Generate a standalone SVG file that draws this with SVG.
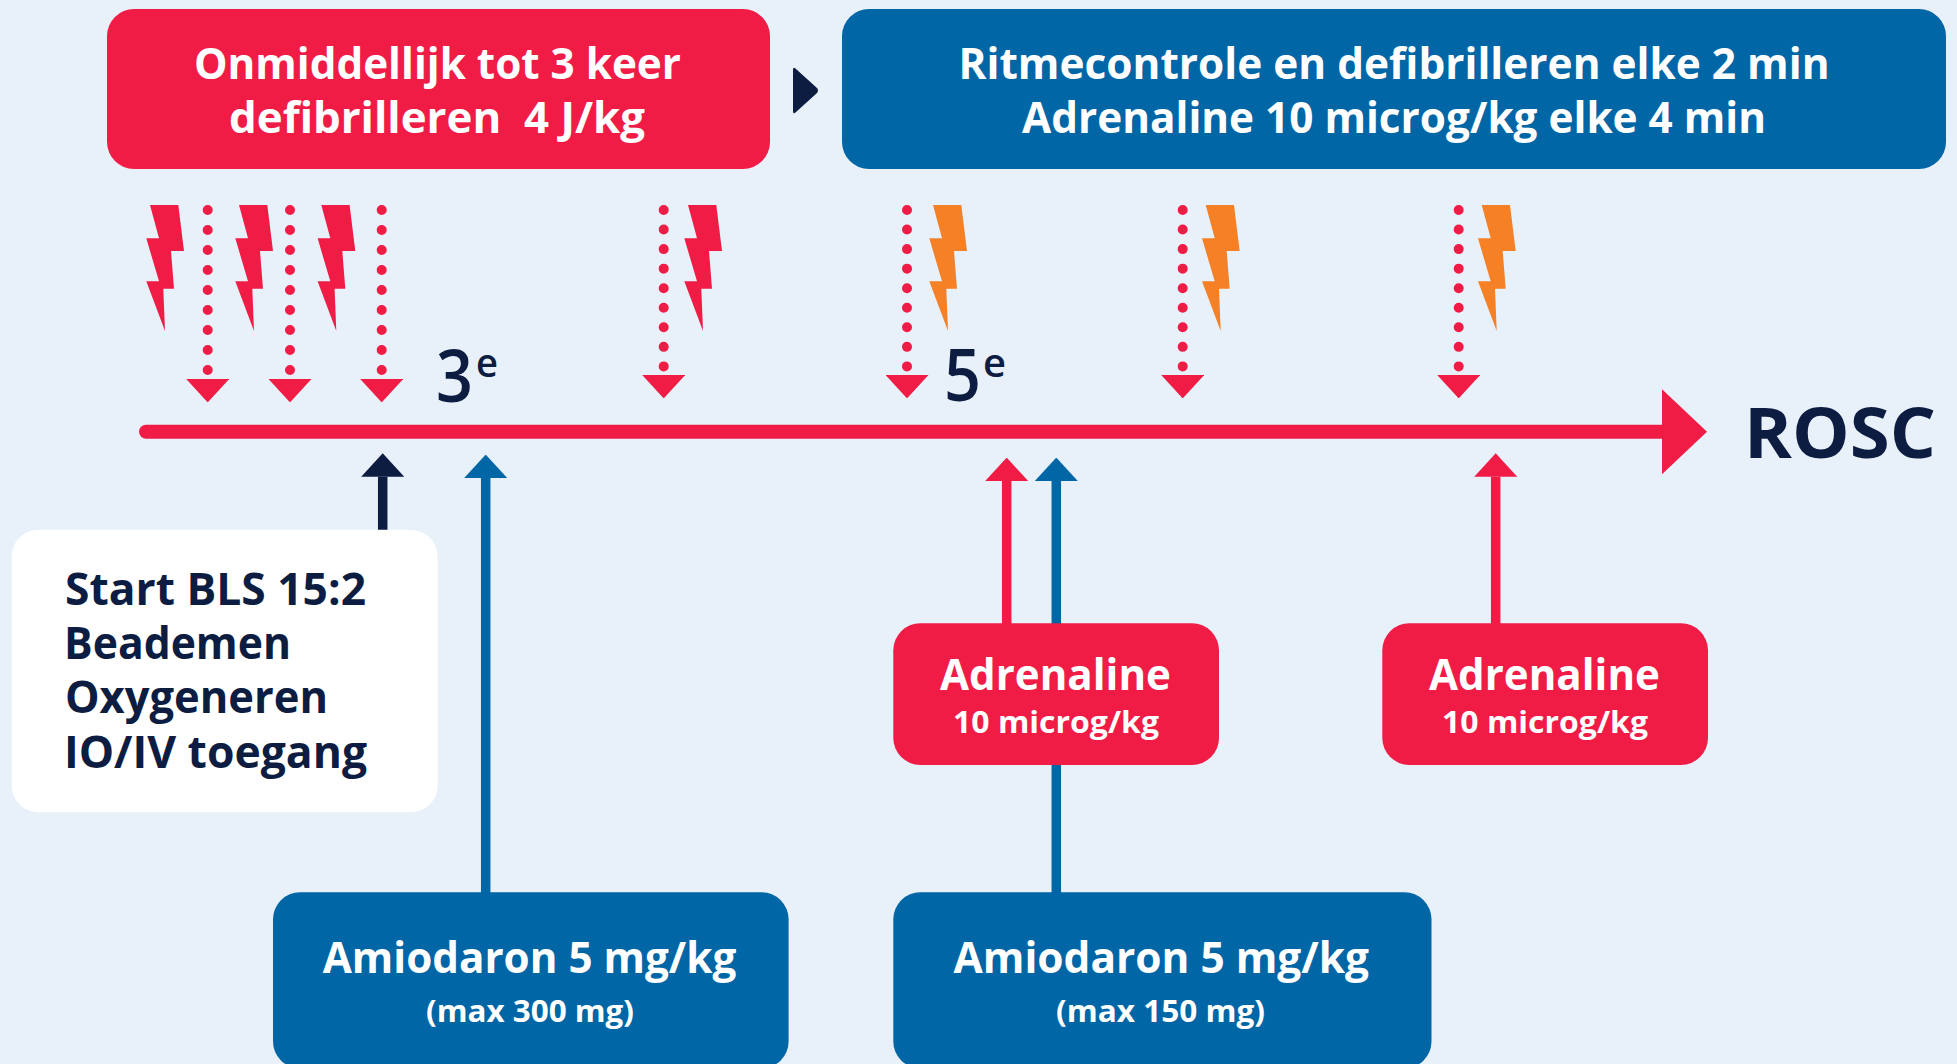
<svg xmlns="http://www.w3.org/2000/svg" xmlns:xlink="http://www.w3.org/1999/xlink" width="1957" height="1064" viewBox="0 0 1957 1064">
<style>
text{font-family:"Open Sans","Noto Sans","Liberation Sans",sans-serif;font-weight:700}
.w{fill:#ffffff}
.n{fill:#0d1c41}
.big{font-size:43px}
.lead{font-size:43px}
.sub{font-size:31px}
.list{font-size:44px}
.ord{font-size:73px;font-weight:600}
.sup{font-size:40px;font-weight:600}
.red{fill:#f01c46}
.blue{fill:#0066a6}
.orange{fill:#f68026}
.navy{fill:#0d1c41}
.dot{stroke:#f01c46;stroke-width:10;stroke-linecap:round;fill:none}
.a{stroke-width:9.5;fill:none}
</style>
<defs>
<polygon id="bolt" points="0,0 28.3,0 34,46 21,46 24,83.7 13.3,83.7 15,126 -3.7,76.3 9,76.3 -3.7,33.3 9,33.3"/>
<marker id="hr" markerUnits="userSpaceOnUse" markerWidth="23.4" markerHeight="43" refX="0" refY="21.5" orient="auto" viewBox="0 0 23.4 43"><path d="M0,0L23.4,21.5L0,43z" fill="#f01c46"/></marker>
<marker id="hb" markerUnits="userSpaceOnUse" markerWidth="23.4" markerHeight="43" refX="0" refY="21.5" orient="auto" viewBox="0 0 23.4 43"><path d="M0,0L23.4,21.5L0,43z" fill="#0066a6"/></marker>
<marker id="hn" markerUnits="userSpaceOnUse" markerWidth="23.4" markerHeight="43" refX="0" refY="21.5" orient="auto" viewBox="0 0 23.4 43"><path d="M0,0L23.4,21.5L0,43z" fill="#0d1c41"/></marker>
<marker id="hm" markerUnits="userSpaceOnUse" markerWidth="45.5" markerHeight="86" refX="0" refY="43" orient="auto" viewBox="0 0 45.5 86"><path d="M0,0L45.5,43L0,86z" fill="#f01c46"/></marker>
</defs>
<rect width="1957" height="1064" fill="#e8f0fa"/>
<g id="connectors">
<line x1="146" y1="431.7" x2="1661.5" y2="431.7" stroke="#f01c46" stroke-width="14" stroke-linecap="round" marker-end="url(#hm)"/>
<line class="dot" stroke-dasharray="0 20" x1="207.7" y1="210" x2="207.7" y2="379" marker-end="url(#hr)"/>
<line class="dot" stroke-dasharray="0 20" x1="290" y1="210" x2="290" y2="379" marker-end="url(#hr)"/>
<line class="dot" stroke-dasharray="0 20" x1="381.7" y1="210" x2="381.7" y2="379" marker-end="url(#hr)"/>
<line class="dot" stroke-dasharray="0 19.55" x1="663.7" y1="210" x2="663.7" y2="375" marker-end="url(#hr)"/>
<line class="dot" stroke-dasharray="0 19.55" x1="907" y1="210" x2="907" y2="375" marker-end="url(#hr)"/>
<line class="dot" stroke-dasharray="0 19.55" x1="1182.7" y1="210" x2="1182.7" y2="375" marker-end="url(#hr)"/>
<line class="dot" stroke-dasharray="0 19.55" x1="1458.7" y1="210" x2="1458.7" y2="375" marker-end="url(#hr)"/>
<line class="a" stroke="#0d1c41" x1="382.7" y1="531" x2="382.7" y2="476.7" marker-end="url(#hn)"/>
<line class="a" stroke="#0066a6" x1="485.7" y1="893" x2="485.7" y2="478" marker-end="url(#hb)"/>
<line class="a" stroke="#f01c46" x1="1006.7" y1="625" x2="1006.7" y2="481" marker-end="url(#hr)"/>
<line class="a" stroke="#0066a6" x1="1056.3" y1="893" x2="1056.3" y2="481" marker-end="url(#hb)"/>
<line class="a" stroke="#f01c46" x1="1495.7" y1="625" x2="1495.7" y2="476.7" marker-end="url(#hr)"/>
<path d="M793,70Q793,66 796,69L817,88Q819,90.500 817,93L796,112Q793,115 793,111z" class="navy"/>
</g>
<g id="bolts">
<use xlink:href="#bolt" href="#bolt" x="150" y="205" class="red"/>
<use xlink:href="#bolt" href="#bolt" x="239" y="205" class="red"/>
<use xlink:href="#bolt" href="#bolt" x="321.3" y="205" class="red"/>
<use xlink:href="#bolt" href="#bolt" x="688" y="205" class="red"/>
<use xlink:href="#bolt" href="#bolt" x="933" y="205" class="orange"/>
<use xlink:href="#bolt" href="#bolt" x="1205.700" y="205" class="orange"/>
<use xlink:href="#bolt" href="#bolt" x="1481.700" y="205" class="orange"/>
</g>
<g id="node-defib">
<rect x="107" y="9" width="663" height="160" rx="27" class="red"/>
<text class="big w" x="194" y="79" textLength="487" lengthAdjust="spacingAndGlyphs">Onmiddellijk tot 3 keer</text>
<text class="big w" x="229" y="132.700" textLength="416" lengthAdjust="spacingAndGlyphs" xml:space="preserve">defibrilleren  4 J/kg</text>
</g>
<g id="node-ritme">
<rect x="842" y="9" width="1104" height="160" rx="27" class="blue"/>
<text class="big w" x="958.500" y="79" textLength="871" lengthAdjust="spacingAndGlyphs">Ritmecontrole en defibrilleren elke 2 min</text>
<text class="big w" x="1022" y="132.700" textLength="744" lengthAdjust="spacingAndGlyphs">Adrenaline 10 microg/kg elke 4 min</text>
</g>
<g id="node-3e">
<text class="ord n" x="436" y="401.700" textLength="37" lengthAdjust="spacingAndGlyphs">3</text>
<text class="sup n" x="476" y="376.700" textLength="22" lengthAdjust="spacingAndGlyphs">e</text>
</g>
<g id="node-5e">
<text class="ord n" x="944" y="400.700" textLength="37" lengthAdjust="spacingAndGlyphs">5</text>
<text class="sup n" x="983" y="376.700" textLength="23" lengthAdjust="spacingAndGlyphs">e</text>
</g>
<g id="node-rosc">
<text class="n" font-size="70" x="1744" y="458" textLength="192" lengthAdjust="spacingAndGlyphs">ROSC</text>
</g>
<g id="node-bls">
<rect x="11.700" y="529.700" width="426" height="282.600" rx="27" fill="#ffffff"/>
<text class="list n" x="65" y="605" textLength="301" lengthAdjust="spacingAndGlyphs">Start BLS 15:2</text>
<text class="list n" x="64" y="659" textLength="227" lengthAdjust="spacingAndGlyphs">Beademen</text>
<text class="list n" x="65" y="713.300" textLength="263" lengthAdjust="spacingAndGlyphs">Oxygeneren</text>
<text class="list n" x="64" y="768" textLength="303" lengthAdjust="spacingAndGlyphs">IO/IV toegang</text>
</g>
<g id="node-adrenaline-1">
<rect x="893.300" y="623.300" width="325.700" height="141.700" rx="27" class="red"/>
<text class="lead w" x="940" y="690" textLength="231" lengthAdjust="spacingAndGlyphs">Adrenaline</text>
<text class="sub w" x="953" y="733" textLength="206" lengthAdjust="spacingAndGlyphs">10 microg/kg</text>
</g>
<g id="node-adrenaline-2">
<rect x="1382.300" y="623.300" width="325.700" height="141.700" rx="27" class="red"/>
<text class="lead w" x="1429" y="690" textLength="231" lengthAdjust="spacingAndGlyphs">Adrenaline</text>
<text class="sub w" x="1442" y="733" textLength="206" lengthAdjust="spacingAndGlyphs">10 microg/kg</text>
</g>
<g id="node-amiodaron-1">
<rect x="273" y="892.300" width="515.600" height="176" rx="27" class="blue"/>
<text class="lead w" x="322.700" y="972.700" textLength="413.600" lengthAdjust="spacingAndGlyphs">Amiodaron 5 mg/kg</text>
<text class="sub w" x="426" y="1021.700" textLength="208" lengthAdjust="spacingAndGlyphs">(max 300 mg)</text>
</g>
<g id="node-amiodaron-2">
<rect x="893.300" y="892.300" width="538.200" height="176" rx="27" class="blue"/>
<text class="lead w" x="953.500" y="972.700" textLength="415.500" lengthAdjust="spacingAndGlyphs">Amiodaron 5 mg/kg</text>
<text class="sub w" x="1056" y="1021.700" textLength="209" lengthAdjust="spacingAndGlyphs">(max 150 mg)</text>
</g>
</svg>
